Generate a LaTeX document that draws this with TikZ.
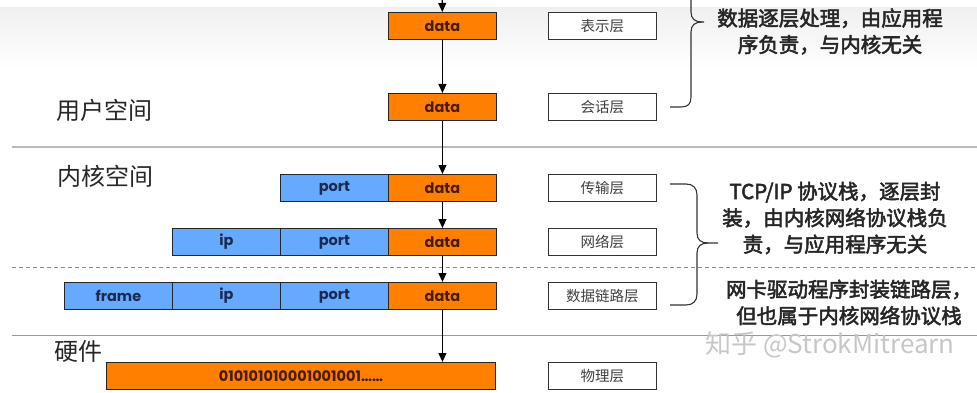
\documentclass[tikz,border=0pt]{standalone}
\usepackage{fontspec}
\setmainfont{Noto Sans CJK SC}
\newfontfamily\notefont{Noto Sans CJK SC}[FakeBold=2.5]
\newfontfamily\boxfont{Poppins}
\usetikzlibrary{arrows.meta}
\definecolor{pktorange}{HTML}{FF8000}
\definecolor{pktblue}{HTML}{66AAFF}
\definecolor{datatext}{HTML}{4A1C06}
\definecolor{hdrtext}{HTML}{1C2A50}
\definecolor{sepline}{HTML}{B8B8CC}
\begin{document}
\begin{tikzpicture}[x=1pt,y=-1pt,
  seg/.style={draw=black!85, line width=0.9pt, minimum width=108pt, minimum height=27pt,
    inner sep=0pt, anchor=north west, font=\boxfont\bfseries\fontsize{14.5}{14.5}\selectfont},
  datseg/.style={seg, fill=pktorange, text=datatext},
  hdrseg/.style={seg, fill=pktblue, text=hdrtext},
  layerbox/.style={draw=black!80, line width=0.9pt, fill=white, minimum width=108pt,
    minimum height=27pt, inner sep=0pt, anchor=north west,
    font=\fontsize{14.5}{14.5}\selectfont, text=black!75},
  flow/.style={-{Triangle[length=9pt,width=8pt]}, line width=1.1pt, black},
  brace/.style={line width=1.1pt, black!80},
  note/.style={align=center, font=\notefont\fontsize{20.5}{26.5}\selectfont, text=black!85},
  spacelabel/.style={font=\fontsize{24}{24}\selectfont, text=black!85, anchor=center}
]
\useasboundingbox (0,0) rectangle (977,393);
\clip (0,0) rectangle (977,393);
\shade[top color=black!6, bottom color=white] (0,8) rectangle (977,70);

% boundaries between user space, kernel space and hardware
\draw[sepline, line width=1.2pt] (12,147) -- (977,147);
\draw[black!45, dash pattern=on 4pt off 3pt, line width=0.8pt] (12,267) -- (977,267);
\draw[black!40, line width=1pt] (12,335) -- (977,335);

% region names
\node[spacelabel] (us) at (104,110) {用户空间};
\node[spacelabel] (ks) at (105,176) {内核空间};
\node[spacelabel] (hw) at (78,351) {硬件};

% packet at each layer
\node[datseg] (d1) at (388,12) {data};
\node[datseg] (d2) at (388,93) {data};

\node[hdrseg] (p3) at (280,174) {port};
\node[datseg] (d3) at (388,174) {data};

\node[hdrseg] (i4) at (172,228) {ip};
\node[hdrseg] (p4) at (280,228) {port};
\node[datseg] (d4) at (388,228) {data};

\node[hdrseg] (f5) at (64,282) {frame};
\node[hdrseg] (i5) at (172,282) {ip};
\node[hdrseg] (p5) at (280,282) {port};
\node[datseg] (d5) at (388,282) {data};

\node[datseg, minimum width=389pt] (phys) at (106,362) {010101010001001001……};

% layer names
\node[layerbox] (l1) at (548,12) {表示层};
\node[layerbox] (l2) at (548,93) {会话层};
\node[layerbox] (l3) at (548,174) {传输层};
\node[layerbox] (l4) at (548,228) {网络层};
\node[layerbox] (l5) at (548,282) {数据链路层};
\node[layerbox] (l6) at (548,362) {物理层};

% data flow downwards
\coordinate (above) at (442,-20);
\draw[flow] (above) -- (d1);
\draw[flow] (d1) -- (d2);
\draw[flow] (d2) -- (d3);
\draw[flow] (d3) -- (d4);
\draw[flow] (d4) -- (d5);
\draw[flow] (d5.south) -- (d5.south |- phys.north);

% braces
\draw[brace] (691,-20) -- (691,12) .. controls (691,19) and (695,22) .. (702,22) -- (704,22);
\draw[brace] (702,22) .. controls (695,22) and (691,25) .. (691,32) -- (691,97)
  .. controls (691,104) and (688,107) .. (681,107) -- (670,107);

\draw[brace] (670,184) -- (686,184) .. controls (693,184) and (697,188) .. (697,195) -- (697,233)
  .. controls (697,240) and (701,243) .. (708,243) -- (718,243);
\draw[brace] (708,243) .. controls (701,243) and (697,246) .. (697,253) -- (697,294)
  .. controls (697,301) and (693,305) .. (686,305) -- (670,305);

% explanations
\node[note] (n1) at (830,31.5) {数据逐层处理，由应用程\\序负责，与内核无关};
\node[note] (n2) at (835,218) {TCP/IP 协议栈，逐层封\\装，由内核网络协议栈负\\责，与应用程序无关};
\node[note] (n3) at (849,302.5) {网卡驱动程序封装链路层，\\但也属于内核网络协议栈};

\node[font=\fontsize{26}{26}\selectfont, text=black!22] (wm) at (830,345) {知乎 @StrokMitrearn};
\end{tikzpicture}
\end{document}
